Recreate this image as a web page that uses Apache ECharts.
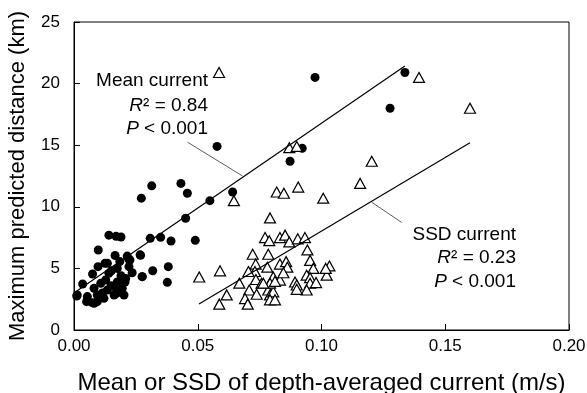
<!DOCTYPE html>
<html><head><meta charset="utf-8">
<script src="https://cdn.jsdelivr.net/npm/echarts@6/dist/echarts.min.js"></script>
<style>html,body{margin:0;padding:0;background:#fff}#c{width:587px;height:393px}</style>
</head><body><div id="c"></div><script>
const xTicks = [0, 0.05, 0.10, 0.15, 0.20];
const yTicks = [0, 5, 10, 15, 20, 25];
const xTitle = 'Mean or SSD of depth-averaged current (m/s)';
const yTitle = 'Maximum predicted distance (km)';

const meanCurrent = [
[0.0974,20.5],[0.1337,20.9],[0.1277,18.0],[0.0578,14.9],[0.0922,14.75],[0.0873,13.7],[0.0641,11.2],
[0.0549,10.5],[0.0451,9.07],[0.0432,11.9],[0.0458,11.1],[0.0314,11.7],[0.0272,10.7],[0.0490,7.28],
[0.0392,7.22],[0.0350,7.52],[0.0308,7.44],[0.0190,7.55],[0.0170,7.6],[0.0141,7.7],[0.0269,6.06],[0.0221,5.76],
[0.0098,6.49],[0.0166,6.05],[0.0267,6.1],[0.0125,5.41],[0.0226,5.68],[0.0185,5.55],[0.0381,5.14],[0.0318,4.81],
[0.0275,4.33],[0.0377,3.87],[0.0075,4.55],[0.0035,3.73],[0.0011,2.76],[0.0051,2.30],[0.0081,2.17],[0.0172,2.98],
[0.0206,3.9],[0.0135,5.41],[0.0097,5.14],[0.0222,5.14],[0.0209,4.19],[0.0141,4.6],[0.0108,3.79],[0.0128,4.06],
[0.0162,3.52],[0.0175,3.9],[0.0081,3.38],[0.0135,3.25],[0.0175,3.11],[0.0013,2.84],[0.0054,2.71],[0.0094,2.84],
[0.0054,2.43],[0.0074,2.22],[0.0094,2.3],[0.0121,2.57],[0.0162,2.84],[0.0195,3.38],[0.0202,2.84],[0.0151,4.8],
[0.0235,4.65],[0.0276,4.33],[0.0215,6.0],[0.0175,5.0],[0.0150,3.6],[0.0115,3.0],[0.0190,4.4]
];

const ssdCurrent = [
[0.0586,20.9],[0.1394,20.5],[0.160,18.0],[0.087,14.8],[0.090,14.9],[0.1203,13.7],[0.0646,10.5],
[0.0819,11.2],[0.0848,11.1],[0.0906,11.6],[0.1007,10.7],[0.1156,11.9],[0.0792,9.1],
[0.0772,7.5],[0.0789,7.25],[0.0832,7.5],[0.0853,7.7],[0.087,7.15],[0.0904,7.4],[0.0933,7.5],
[0.0943,6.5],[0.0722,6.15],[0.0785,6.15],[0.0734,5.35],[0.0781,5.1],[0.0832,5.35],[0.0857,5.55],[0.0862,5.1],
[0.0954,5.65],[0.0967,5.0],[0.094,4.45],[0.0954,4.25],[0.1032,5.2],[0.1021,4.45],[0.1017,5.0],
[0.0506,4.3],[0.059,4.8],[0.0731,4.75],[0.0735,4.1],[0.0668,3.8],[0.0758,3.8],[0.0805,4.3],[0.0832,4.05],
[0.0846,4.65],[0.0893,3.9],[0.090,3.65],[0.0954,3.8],[0.0978,3.85],[0.094,3.25],[0.0708,3.25],[0.0738,2.9],
[0.0691,2.55],[0.0617,2.85],[0.0587,2.1],[0.0702,2.1],[0.0785,3.25],[0.0792,2.85],[0.0805,3.1],[0.0792,2.45],[0.0812,2.45],
[0.0792,3.8],[0.0812,3.95],[0.0900,3.3],[0.0765,3.8],[0.0705,4.75]
];

// regression fits: [intercept, slope] and x-range
const meanFit = [3.0, 137.9];
const meanFitRange = [0.001, 0.1337];
const ssdFit = [-3.93, 119.5];
const ssdFitRange = [0.0505, 0.160];
// leader lines (data coords)
const meanLeader = [[0.0459, 15.24], [0.0681, 12.5]];
const ssdLeader = [[0.1203, 10.37], [0.1324, 8.73]];

const FONT = "'Liberation Sans', Arial, Helvetica, sans-serif";
const fitLine = (f, r) => r.map(x => [x, f[0] + f[1] * x]);
const rt = (x, y, text) => ({type: 'text', z: 10, style: {x, y, text, align: 'right', verticalAlign: 'middle', fill: '#000', fontSize: 19, fontFamily: FONT,
  rich: {i: {fontStyle: 'italic', fontSize: 19, fontFamily: FONT, fill: '#000'}, n: {fontSize: 19, fontFamily: FONT, fill: '#000'}}}});

const chart = echarts.init(document.getElementById('c'), null, {renderer: 'canvas'});
chart.setOption({
  animation: false,
  backgroundColor: '#fff',
  grid: {left: 74, right: 18, top: 22, bottom: 63, containLabel: false, outerBoundsMode: 'none',
         show: true, borderColor: '#000', borderWidth: 1, backgroundColor: 'transparent'},
  xAxis: {
    type: 'value', min: xTicks[0], max: xTicks[xTicks.length - 1], interval: 0.05,
    axisLine: {show: true, lineStyle: {color: '#000', width: 1}},
    axisTick: {show: true, inside: true, length: 6, lineStyle: {color: '#000'}},
    splitLine: {show: false},
    axisLabel: {color: '#000', fontSize: 17, fontFamily: FONT, margin: 8, formatter: v => v.toFixed(2), showMaxLabel: true, showMinLabel: true},
    name: xTitle, nameLocation: 'middle', nameGap: 41,
    nameTextStyle: {color: '#000', fontSize: 24, fontFamily: FONT}
  },
  yAxis: {
    type: 'value', min: yTicks[0], max: yTicks[yTicks.length - 1], interval: 5,
    axisLine: {show: true, lineStyle: {color: '#000', width: 1}},
    axisTick: {show: true, inside: true, length: 6, lineStyle: {color: '#000'}},
    splitLine: {show: false},
    axisLabel: {color: '#000', fontSize: 17, fontFamily: FONT, margin: 14},
    name: yTitle, nameLocation: 'middle', nameGap: 45,
    nameTextStyle: {color: '#000', fontSize: 22, fontFamily: FONT}
  },
  series: [
    {type: 'scatter', name: 'Mean current', data: meanCurrent, symbol: 'circle', symbolSize: 9,
     itemStyle: {color: '#000', opacity: 1}, z: 3},
    {type: 'scatter', name: 'SSD current', data: ssdCurrent, symbol: 'triangle', symbolSize: [11, 10],
     itemStyle: {color: '#fff', borderColor: '#000', borderWidth: 1.2, opacity: 1}, z: 3},
    {type: 'line', data: fitLine(meanFit, meanFitRange), symbol: 'none', lineStyle: {color: '#000', width: 1.2}, z: 4},
    {type: 'line', data: fitLine(ssdFit, ssdFitRange), symbol: 'none', lineStyle: {color: '#000', width: 1.2}, z: 4},
    {type: 'line', data: meanLeader, symbol: 'none', lineStyle: {color: '#333', width: 0.8}, z: 4},
    {type: 'line', data: ssdLeader, symbol: 'none', lineStyle: {color: '#333', width: 0.8}, z: 4}
  ],
  graphic: [
    rt(208, 81, 'Mean current'),
    rt(208, 106, '{i|R}{n|² = 0.84}'),
    rt(208, 129, '{i|P}{n| < 0.001}'),
    rt(516, 235, 'SSD current'),
    rt(516, 258, '{i|R}{n|² = 0.23}'),
    rt(516, 282, '{i|P}{n| < 0.001}')
  ]
});
</script></body></html>
